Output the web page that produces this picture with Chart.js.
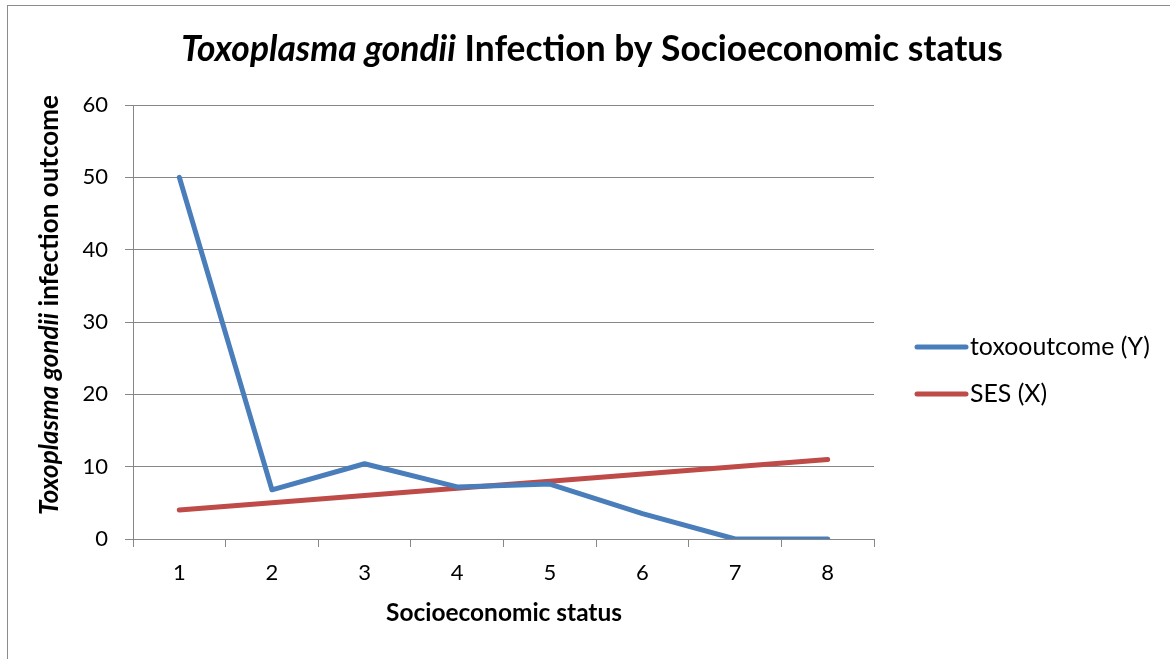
<!DOCTYPE html>
<html lang="en">
<head>
  <meta charset="UTF-8">
  <title>Toxoplasma gondii Infection by Socioeconomic status</title>
  <script src="https://cdn.jsdelivr.net/npm/chart.js"></script>
  <style>
    body { margin: 0; background: #fff; }
    .frame {
      position: absolute; left: 0; top: 0; width: 1170px; height: 659px; overflow: hidden;
    }
    .frame:before {
      content: ""; position: absolute; left: 7px; top: 5px; width: 1200px; height: 700px;
      border: 1px solid #8c8c8c; box-sizing: border-box;
    }
    canvas { position: absolute; left: 0; top: 0; }
  </style>
</head>
<body>
  <div class="frame">
    <canvas id="chart" width="1170" height="659"></canvas>
  </div>

  <script>
    // datos
    const categories = ['1', '2', '3', '4', '5', '6', '7', '8'];
    const toxoOutcome = [50, 6.8, 10.4, 7.2, 7.6, 3.5, 0, 0];
    const ses = [4, 5, 6, 7, 8, 9, 10, 11];
    const seriesNames = ['toxooutcome (Y)', 'SES (X)'];
    const seriesColors = ['#4a7ebb', '#be4b48'];

    const FONT = 'Lato, "Open Sans", sans-serif';

    // tamaño de letra para que las partes ocupen un ancho dado
    function fitParts(ctx, parts, size, target) {
      let w = 0;
      parts.forEach(p => {
        ctx.font = p.style + ' ' + size + 'px ' + FONT;
        w += ctx.measureText(p.text).width;
      });
      return size * target / w;
    }
    function drawParts(ctx, parts, size, x, cy, align) {
      let w = 0;
      parts.forEach(p => {
        ctx.font = p.style + ' ' + size + 'px ' + FONT;
        w += ctx.measureText(p.text).width;
      });
      if (align !== 'left') x = x - w / 2;
      ctx.textBaseline = 'middle';
      ctx.textAlign = 'left';
      parts.forEach(p => {
        ctx.font = p.style + ' ' + size + 'px ' + FONT;
        ctx.fillText(p.text, x, cy);
        x += ctx.measureText(p.text).width;
      });
    }

    const textPlugin = {
      id: 'textos',
      afterDraw(chart) {
        const ctx = chart.ctx;
        ctx.save();
        ctx.fillStyle = '#000';

        // titulo
        const title = [
          { text: 'Toxoplasma gondii', style: 'italic bold' },
          { text: ' Infection by Socioeconomic status', style: 'bold' }
        ];
        const ts = fitParts(ctx, title, 30, 822);
        drawParts(ctx, title, ts, 592, 50);

        // titulo eje x
        const xt = [{ text: 'Socioeconomic status', style: 'bold' }];
        const xs = fitParts(ctx, xt, 20, 236);
        drawParts(ctx, xt, xs, 504, 613);

        // titulo eje y
        const yt = [
          { text: 'Toxoplasma gondii', style: 'italic bold' },
          { text: ' infection outcome', style: 'bold' }
        ];
        const ys = fitParts(ctx, yt, 20, 420);
        ctx.save();
        ctx.translate(50, 305);
        ctx.rotate(-Math.PI / 2);
        drawParts(ctx, yt, ys, 0, 0);
        ctx.restore();

        // leyenda
        const ly = [347, 394];
        const ls = fitParts(ctx, [{ text: seriesNames[0], style: 'normal' }], 20, 180);
        seriesNames.forEach((name, i) => {
          ctx.strokeStyle = seriesColors[i];
          ctx.lineWidth = 5;
          ctx.lineCap = 'round';
          ctx.beginPath();
          ctx.moveTo(917, ly[i]);
          ctx.lineTo(966, ly[i]);
          ctx.stroke();
          drawParts(ctx, [{ text: name, style: 'normal' }], ls, 970, ly[i], 'left');
        });
        ctx.restore();
      }
    };

    new Chart(document.getElementById('chart'), {
      type: 'line',
      data: {
        labels: categories,
        datasets: [
          {
            label: seriesNames[0],
            data: toxoOutcome,
            borderColor: seriesColors[0],
            borderWidth: 5,
            borderCapStyle: 'round',
            borderJoinStyle: 'round',
            pointRadius: 0,
            tension: 0
          },
          {
            label: seriesNames[1],
            data: ses,
            borderColor: seriesColors[1],
            borderWidth: 5,
            borderCapStyle: 'round',
            borderJoinStyle: 'round',
            pointRadius: 0,
            tension: 0
          }
        ]
      },
      options: {
        responsive: false,
        animation: false,
        layout: { padding: { top: 105, right: 296, left: 0, bottom: 0 } },
        plugins: {
          legend: { display: false },
          title: { display: false },
          tooltip: { enabled: false }
        },
        scales: {
          x: {
            offset: true,
            afterFit(scale) { scale.height = 120; },
            grid: {
              offset: true,
              drawOnChartArea: false,
              drawTicks: true,
              tickLength: 8,
              color: '#878787'
            },
            border: { color: '#878787', width: 1 },
            ticks: {
              color: '#000',
              padding: 13,
              font: { family: FONT, size: 22 }
            }
          },
          y: {
            min: 0,
            max: 60,
            afterFit(scale) { scale.width = 133; },
            grid: {
              color: '#878787',
              tickLength: 8,
              drawTicks: true
            },
            border: { color: '#878787', width: 1 },
            ticks: {
              stepSize: 10,
              color: '#000',
              padding: 17,
              font: { family: FONT, size: 22 }
            }
          }
        }
      },
      plugins: [textPlugin]
    });
  </script>
</body>
</html>
